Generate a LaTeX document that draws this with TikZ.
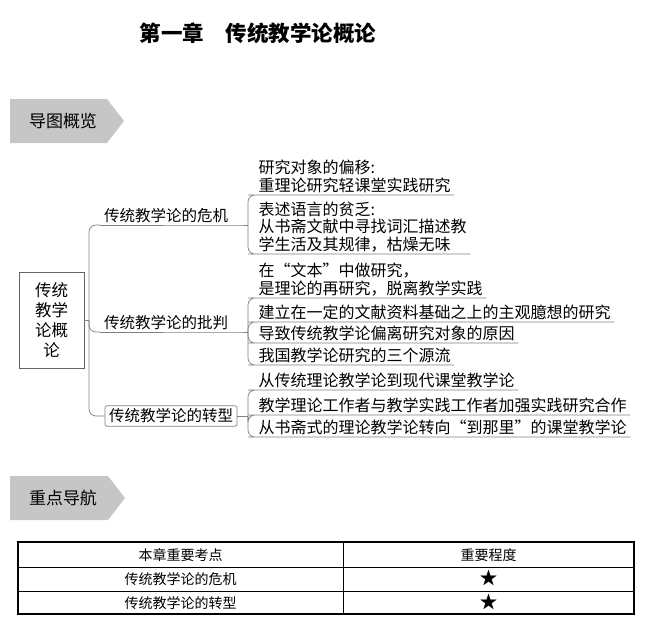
\documentclass[tikz,border=0pt]{standalone}
\usepackage{amssymb}
\usepackage{fontspec}
\setmainfont{Noto Sans CJK SC}
\usepackage{tikz}
\usetikzlibrary{positioning}

\tikzset{
    link/.style={draw=gray, line width=0.7pt, rounded corners=7pt},
    rootbox/.style={draw=gray!80!black, line width=0.7pt, minimum width=65pt, minimum height=96pt, align=center, font=\fontsize{16.5}{20}\selectfont},
    branch/.style={inner xsep=4pt, inner ysep=2pt, font=\fontsize{15.5}{17.5}\selectfont},
    leaf/.style={anchor=south west, align=left, inner xsep=3.5pt, inner ysep=2pt, font=\fontsize{16}{17.5}\selectfont},
    banner/.style={fill=gray!45},
    bannertext/.style={font=\fontsize{17}{20}\selectfont},
    cell/.style={font=\fontsize{14}{16}\selectfont},
    starcell/.style={font=\fontsize{19}{20}\selectfont}
}

\begin{document}
\begin{tikzpicture}[x=1pt, y=-1pt]
\useasboundingbox (0,0) rectangle (654,627);

% Title
\node[font=\fontsize{21.5}{24}\selectfont\bfseries] (title) at (258,33) {第一章　传统教学论概论};

% Banner 1
\fill[banner] (10,99) -- (107,99) -- (124,121) -- (107,143) -- (10,143) -- cycle;
\node[bannertext] (ban1) at (63,121) {导图概览};

% Mind map nodes
\node[rootbox] (root) at (51.5,320) {传统\\教学\\论概\\论};

\node[branch, anchor=south west] (b1) at (100,225) {传统教学论的危机};
\node[branch, anchor=south west] (b2) at (100,332) {传统教学论的批判};
\node[branch, draw=gray, line width=0.7pt, rounded corners=2pt, inner ysep=3pt] (b3) at (171,416) {传统教学论的转型};

\node[leaf] (l1a) at (255,195) {研究对象的偏移:\\重理论研究轻课堂实践研究};
\node[leaf] (l1b) at (255,254) {表述语言的贫乏:\\从书斋文献中寻找词汇描述教\\学生活及其规律，枯燥无味};
\node[leaf] (l2a) at (255,298) {在“文本”中做研究，\\是理论的再研究，脱离教学实践};
\node[leaf] (l2b) at (255,322) {建立在一定的文献资料基础之上的主观臆想的研究};
\node[leaf] (l2c) at (255,343) {导致传统教学论偏离研究对象的原因};
\node[leaf] (l2d) at (255,365) {我国教学论研究的三个源流};
\node[leaf] (l3a) at (255,390) {从传统理论教学论到现代课堂教学论};
\node[leaf] (l3b) at (255,415) {教学理论工作者与教学实践工作者加强实践研究合作};
\node[leaf] (l3c) at (255,437) {从书斋式的理论教学论转向“到那里”的课堂教学论};

% Junctions
\coordinate (k0) at (89,320);
\coordinate (k1) at (248,225);
\coordinate (k2) at (248,332);
\coordinate (k3) at (248,416);

% Root to branches
\draw[link] (root.east) -- (k0);
\draw[link] (k0) |- (b1.south west);
\draw[link] (k0) |- (b2.south west);
\draw[link] (k0) |- (b3.west);

% Underlines of branches
\draw[link] (b1.south west) -- (b1.south east) -- (k1);
\draw[link] (b2.south west) -- (b2.south east) -- (k2);
\draw[link] (b3.east) -- (k3);

% Branches to leaves
\foreach \k/\l in {k1/l1a, k1/l1b, k2/l2a, k2/l2b, k2/l2c, k2/l2d, k3/l3a, k3/l3b, k3/l3c}{
    \draw[link] (\k) |- (\l.south west) -- (\l.south east);
}

% Banner 2
\fill[banner] (10,476) -- (108,476) -- (125,498) -- (108,520) -- (10,520) -- cycle;
\node[bannertext] (ban2) at (63,498) {重点导航};

% Table
\draw[line width=0.6pt] (18,567) -- (634,567);
\draw[line width=0.6pt] (18,591) -- (634,591);
\draw[line width=0.6pt] (343,542) -- (343,614);
\draw[line width=1.5pt] (18,542) rectangle (634,614);

\node[cell] (h1) at (180.5,555) {本章重要考点};
\node[cell] (h2) at (488.5,555) {重要程度};
\node[cell] (r1) at (180.5,579) {传统教学论的危机};
\node[starcell] (s1) at (488.5,579) {$\bigstar$};
\node[cell] (r2) at (180.5,603) {传统教学论的转型};
\node[starcell] (s2) at (488.5,603) {$\bigstar$};

\end{tikzpicture}
\end{document}
